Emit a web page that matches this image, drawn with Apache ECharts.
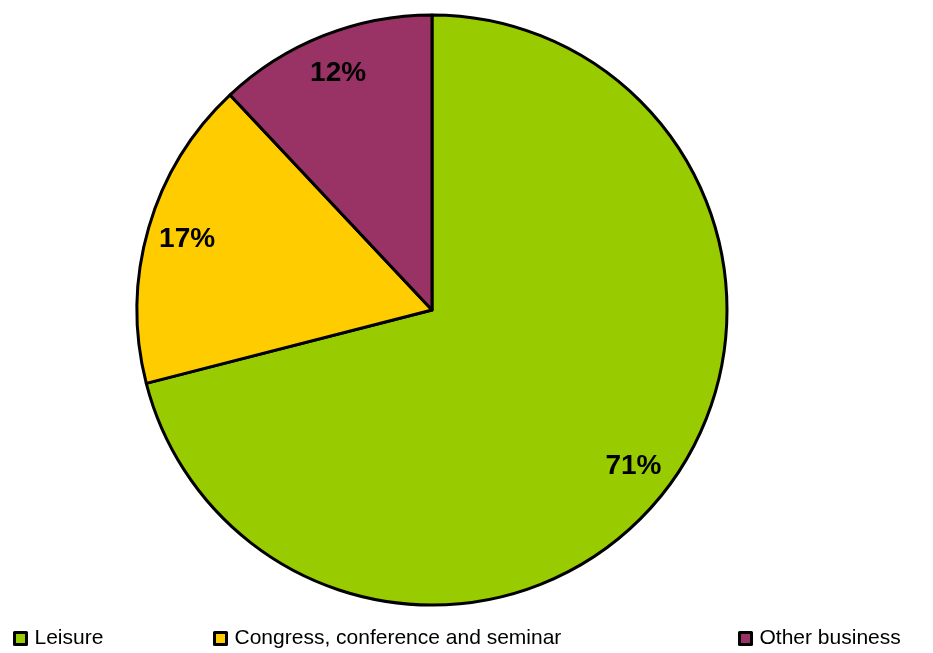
<!DOCTYPE html>
<html>
<head>
<meta charset="utf-8">
<script src="https://cdn.jsdelivr.net/npm/echarts@6/dist/echarts.min.js"></script>
<style>
html,body{margin:0;padding:0;background:#fff;}
#chart{width:933px;height:653px;}
</style>
</head>
<body>
<div id="chart"></div>
<script>
const categories = ['Leisure', 'Congress, conference and seminar', 'Other business'];
const shares = [71, 17, 12];
const colors = ['#99CC00', '#FFCC00', '#993366'];

const chart = echarts.init(document.getElementById('chart'), null, {renderer: 'canvas'});
const data = categories.map((c, i) => ({name: c, value: shares[i], itemStyle: {color: colors[i]}}));
const labelData = categories.map((c, i) => ({name: c, value: shares[i]}));
const legendLefts = [13, 213, 738];
const FONT = '"Liberation Sans", Arial, sans-serif';

const legends = categories.map((c, i) => ({
  left: legendLefts[i],
  top: 628,
  orient: 'horizontal',
  padding: 0,
  itemWidth: 12,
  itemHeight: 12,
  itemGap: 0,
  icon: 'rect',
  selectedMode: false,
  data: [{name: c, itemStyle: {color: colors[i], borderColor: '#000', borderWidth: 3}}],
  textStyle: {fontFamily: FONT, fontSize: 21, color: '#000', padding: [0, 0, 0, 3]}
}));

chart.setOption({
  animation: false,
  backgroundColor: '#fff',
  legend: legends,
  series: [
    {
      type: 'pie',
      center: [432, 310],
      radius: [0, 295],
      startAngle: 90,
      clockwise: true,
      silent: true,
      label: {show: false},
      labelLine: {show: false},
      itemStyle: {borderColor: '#000', borderWidth: 3},
      data: data
    },
    {
      type: 'pie',
      center: [432, 310],
      radius: [210, 294],
      startAngle: 90,
      clockwise: true,
      silent: true,
      itemStyle: {color: 'rgba(0,0,0,0)', borderWidth: 0},
      label: {
        show: true,
        position: 'inside',
        formatter: '{c}%',
        fontFamily: FONT,
        fontWeight: 'bold',
        fontSize: 28,
        color: '#000'
      },
      labelLine: {show: false},
      data: labelData
    }
  ]
});
</script>
</body>
</html>
